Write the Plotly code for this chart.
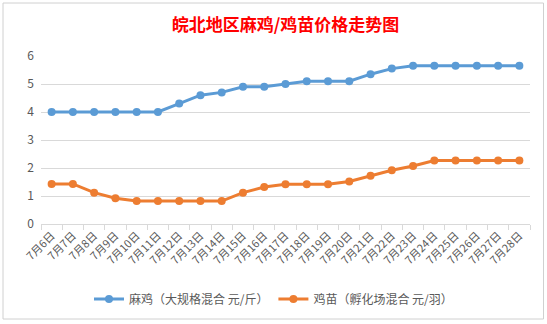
import plotly.graph_objects as go

dates = ["7月6日", "7月7日", "7月8日", "7月9日", "7月10日", "7月11日", "7月12日", "7月13日",
         "7月14日", "7月15日", "7月16日", "7月17日", "7月18日", "7月19日", "7月20日", "7月21日",
         "7月22日", "7月23日", "7月24日", "7月25日", "7月26日", "7月27日", "7月28日"]
maji = [4.0, 4.0, 4.0, 4.0, 4.0, 4.0, 4.3, 4.6, 4.7, 4.9, 4.9, 5.0, 5.1, 5.1, 5.1, 5.35,
        5.55, 5.65, 5.65, 5.65, 5.65, 5.65, 5.65]
jimiao = [1.43, 1.43, 1.12, 0.92, 0.82, 0.82, 0.82, 0.82, 0.82, 1.12, 1.32, 1.42, 1.42, 1.42,
          1.52, 1.72, 1.92, 2.07, 2.27, 2.27, 2.27, 2.27, 2.27]
name1 = "麻鸡（大规格混合 元/斤）"
name2 = "鸡苗（孵化场混合 元/羽）"
title = "皖北地区麻鸡/鸡苗价格走势图"

W, H = 547, 324
L, R, T, B = 41, 17, 56, 100

fig = go.Figure()
fig.add_trace(go.Scatter(x=dates, y=maji, name=name1, mode="lines+markers",
                         line=dict(color="#5B9BD5", width=3),
                         marker=dict(size=8, color="#5B9BD5")))
fig.add_trace(go.Scatter(x=dates, y=jimiao, name=name2, mode="lines+markers",
                         line=dict(color="#ED7D31", width=3),
                         marker=dict(size=8, color="#ED7D31")))

def px_x(p):
    return (p - L) / (W - L - R)

def px_y(p):
    return 1 - (p - T) / (H - T - B)

fig.add_shape(type="rect", xref="paper", yref="paper",
              x0=px_x(3), x1=px_x(543.5), y0=px_y(319), y1=px_y(3),
              line=dict(color="#D0D0D0", width=1), layer="below")

font = "Noto Sans CJK SC, Microsoft YaHei, sans-serif"
fig.update_layout(
    width=W, height=H,
    margin=dict(l=L, r=R, t=T, b=B),
    paper_bgcolor="white", plot_bgcolor="white",
    font=dict(family=font, color="#595959", size=12),
    title=dict(text="<b>" + title + "</b>", x=0.5, xref="paper", xanchor="center",
               y=1 - 25 / H, yanchor="middle",
               font=dict(family=font, size=17, color="#FF0000")),
    showlegend=True,
    legend=dict(orientation="h", x=0.5, xanchor="center", xref="container",
                y=1 - 299 / H, yref="container", yanchor="middle",
                font=dict(size=12, color="#595959"), itemwidth=30,
                traceorder="normal"),
    xaxis=dict(type="category", range=[-0.5, len(dates) - 0.5], tickangle=-45,
               showgrid=False, showline=True, linecolor="#D9D9D9", linewidth=1,
               ticks="outside", tickson="boundaries", ticklen=5, tickcolor="#D9D9D9",
               tickfont=dict(size=11, color="#595959"), fixedrange=True),
    yaxis=dict(range=[0, 6], dtick=1, showgrid=True, gridcolor="#D9D9D9", gridwidth=1,
               zeroline=False, showline=False, ticks="",
               tickfont=dict(size=12, color="#595959"), ticklabelstandoff=6),
)

fig.write_html("out.html")
